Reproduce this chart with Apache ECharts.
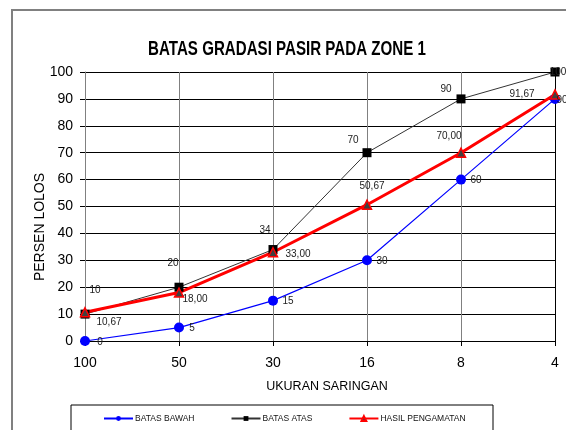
<!DOCTYPE html>
<html>
<head>
<meta charset="utf-8">
<script src="https://cdn.jsdelivr.net/npm/echarts@6/dist/echarts.min.js"></script>
<style>
  html, body { margin: 0; padding: 0; background: #fff; }
  #chart { width: 566px; height: 430px; }
</style>
</head>
<body>
<div id="chart"></div>
<script>
// ukuran saringan (sumbu x)
var ukuranSaringan = ['100', '50', '30', '16', '8', '4'];
var batasBawah = [0, 5, 15, 30, 60, 90];
var batasAtas = [10, 20, 34, 70, 90, 100];
var hasilPengamatan = [10.67, 18.00, 33.00, 50.67, 70.00, 91.67];

var FONT = '"Liberation Sans", Arial, sans-serif';

var chart = echarts.init(document.getElementById('chart'));

// geser label tiap titik biar mirip excel
function withLabels(values, offsets, fmt) {
  return values.map(function (v, i) {
    return {
      value: v,
      label: { offset: offsets[i], formatter: fmt }
    };
  });
}

var fmtInt = function (p) { return String(p.value); };
var fmtDec = function (p) { return p.value.toFixed(2).replace('.', ','); };

var labelStyle = {
  show: true,
  position: 'inside',
  color: '#222',
  fontFamily: FONT,
  fontSize: 10
};

var option = {
  animation: false,
  graphic: [
    {
      type: 'rect', z: -10,
      shape: { x: 12, y: 10, width: 600, height: 500 },
      style: { fill: 'none', stroke: '#808080', lineWidth: 2 }
    },
    {
      type: 'rect', z: -5,
      shape: { x: 71, y: 405, width: 422, height: 40 },
      style: { fill: '#fff', stroke: '#000', lineWidth: 1 }
    },
    {
      // judul dibuat sempit (font narrow tidak ada)
      type: 'text', x: 287, y: 49, scaleX: 0.72,
      style: {
        text: 'BATAS GRADASI PASIR PADA ZONE 1',
        font: 'bold 21px "Liberation Sans", Arial',
        fill: '#000', textAlign: 'center', textVerticalAlign: 'middle'
      }
    },
    {
      type: 'text', x: 40, y: 227, rotation: Math.PI / 2,
      style: {
        text: 'PERSEN LOLOS',
        font: '14px "Liberation Sans", Arial',
        fill: '#000', textAlign: 'center', textVerticalAlign: 'middle'
      }
    }
  ],
  legend: {
    left: 103,
    top: 414,
    padding: 0,
    itemWidth: 29,
    itemHeight: 6,
    itemGap: 36,
    textStyle: { fontFamily: FONT, fontSize: 8.5, color: '#111', padding: [0, 0, 0, -3] },
    data: ['BATAS BAWAH', 'BATAS ATAS', 'HASIL PENGAMATAN']
  },
  grid: { left: 85, right: 11, top: 72, bottom: 89 },
  xAxis: {
    type: 'category',
    boundaryGap: false,
    data: ukuranSaringan,
    name: 'UKURAN SARINGAN',
    nameLocation: 'middle',
    nameGap: 39,
    nameTextStyle: { fontFamily: FONT, fontSize: 12.5, color: '#000', padding: [0, 0, 0, 14] },
    axisLine: { lineStyle: { color: '#000', width: 1 } },
    axisTick: { show: true, length: 5, lineStyle: { color: '#000' } },
    axisLabel: { margin: 15, fontFamily: FONT, fontSize: 14, color: '#000' },
    splitLine: { show: true, lineStyle: { color: '#808080', width: 1 } }
  },
  yAxis: [
    {
      type: 'value',
      min: 0,
      max: 100,
      interval: 10,
      axisLine: { show: true, lineStyle: { color: '#808080', width: 1 } },
      axisTick: { show: true, length: 5, lineStyle: { color: '#000' } },
      axisLabel: { margin: 12, fontFamily: FONT, fontSize: 14, color: '#000' },
      splitLine: { show: true, lineStyle: { color: '#000', width: 1 } }
    },
    {
      type: 'value',
      min: 0,
      max: 100,
      interval: 10,
      position: 'right',
      axisLine: { show: true, lineStyle: { color: '#000', width: 1 } },
      axisTick: { show: false },
      axisLabel: { show: false },
      splitLine: { show: false }
    }
  ],
  series: [
    {
      name: 'BATAS BAWAH',
      type: 'line',
      symbol: 'circle',
      symbolSize: 10,
      itemStyle: { color: '#0000ff' },
      lineStyle: { color: '#0000ff', width: 1.2 },
      label: labelStyle,
      data: withLabels(batasBawah,
        [[15, 1], [13, 1], [15, 1], [15, 1], [15, 1], [7, 1]], fmtInt)
    },
    {
      name: 'BATAS ATAS',
      type: 'line',
      symbol: 'rect',
      symbolSize: 9,
      itemStyle: { color: '#000' },
      lineStyle: { color: '#333', width: 1 },
      label: labelStyle,
      data: withLabels(batasAtas,
        [[10, -24], [-6, -24], [-8, -19], [-14, -12], [-15, -10], [3, 0]], fmtInt)
    },
    {
      name: 'HASIL PENGAMATAN',
      type: 'line',
      symbol: 'triangle',
      symbolSize: 9,
      itemStyle: { color: '#404040', borderColor: '#ff0000', borderWidth: 1.5 },
      lineStyle: { color: '#ff0000', width: 3 },
      label: labelStyle,
      data: withLabels(hasilPengamatan,
        [[24, 10], [16, 7], [25, 2], [5, -18], [-12, -16], [-33, 0]], fmtDec)
    }
  ]
};

chart.setOption(option);
</script>
</body>
</html>
